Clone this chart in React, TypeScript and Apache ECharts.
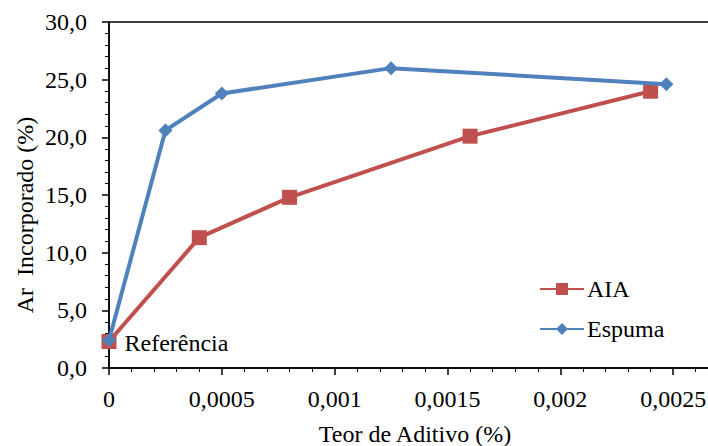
import React, { useEffect, useRef } from "react";
import * as echarts from "echarts";

const aiaX = [0, 0.0004, 0.0008, 0.0016, 0.0024];
const aiaY = [2.3, 11.3, 14.8, 20.1, 24.0];
const espX = [0, 0.00025, 0.0005, 0.00125, 0.00247];
const espY = [2.4, 20.6, 23.8, 26.0, 24.6];
const seriesNames = ["AIA", "Espuma"];
const refLabel = "Referência";
const xTitle = "Teor de Aditivo (%)";
const yTitle = "Ar  Incorporado (%)";

const FONT = "Liberation Serif";
const FS = 24;

export default function App() {
  const ref = useRef<HTMLDivElement>(null);
  useEffect(() => {
    if (!ref.current) return;
    const chart = echarts.init(ref.current, undefined, { renderer: "svg" });
    const fmtX = (v: number) =>
      parseFloat(v.toFixed(5)).toString().replace(".", ",");
    const fmtY = (v: number) => v.toFixed(1).replace(".", ",");
    chart.setOption({
      animation: false,
      backgroundColor: "#ffffff",
      textStyle: { fontFamily: FONT, fontSize: FS, color: "#000" },
      grid: {
        left: 109,
        top: 22,
        bottom: 78,
        right: 0,
        show: true,
        borderColor: "#000",
        borderWidth: 1.5,
        containLabel: false,
        outerBoundsMode: "none",
      },
      legend: {
        orient: "vertical",
        left: 539,
        top: 277,
        padding: 0,
        itemWidth: 44,
        itemHeight: 15,
        itemGap: 16,
        textStyle: { fontFamily: FONT, fontSize: FS, color: "#000", padding: [0, 0, 0, -2] },
        data: seriesNames,
      },
      xAxis: {
        type: "value",
        min: 0,
        max: 0.003,
        interval: 0.0005,
        axisLine: { show: true, onZero: false, lineStyle: { color: "#000", width: 1.5 } },
        axisTick: { show: true, length: 7, lineStyle: { color: "#000", width: 1.5 } },
        minorTick: { show: true, splitNumber: 5, length: 4, lineStyle: { color: "#000", width: 1 } },
        splitLine: { show: false },
        axisLabel: {
          fontFamily: FONT,
          fontSize: FS,
          color: "#000",
          margin: 19,
          showMaxLabel: false,
          formatter: fmtX,
        },
      },
      yAxis: {
        type: "value",
        min: 0,
        max: 30,
        interval: 5,
        axisLine: { show: true, lineStyle: { color: "#000", width: 1.5 } },
        axisTick: { show: true, length: 7, lineStyle: { color: "#000", width: 1.5 } },
        minorTick: { show: true, splitNumber: 5, length: 4, lineStyle: { color: "#000", width: 1 } },
        splitLine: { show: false },
        axisLabel: {
          fontFamily: FONT,
          fontSize: FS,
          color: "#000",
          margin: 22,
          formatter: fmtY,
        },
      },
      graphic: [
        {
          type: "text",
          x: 415,
          y: 434,
          style: {
            text: xTitle,
            fontFamily: FONT,
            fontSize: FS,
            fill: "#000",
            align: "center",
            verticalAlign: "middle",
          },
        },
        {
          type: "text",
          x: 25,
          y: 215,
          rotation: Math.PI / 2,
          style: {
            text: yTitle,
            fontFamily: FONT,
            fontSize: FS,
            fill: "#000",
            align: "center",
            verticalAlign: "middle",
          },
        },
      ],
      series: [
        {
          name: seriesNames[0],
          type: "line",
          data: aiaX.map((x, i) =>
            i === 0
              ? {
                  value: [x, aiaY[i]],
                  label: {
                    show: true,
                    position: "right",
                    distance: 8,
                    formatter: refLabel,
                    fontFamily: FONT,
                    fontSize: FS,
                    color: "#000",
                    offset: [0, 2],
                  },
                }
              : [x, aiaY[i]]
          ),
          symbol: "rect",
          symbolSize: 15,
          lineStyle: { color: "#C0504D", width: 4 },
          itemStyle: { color: "#C0504D" },
          z: 2,
        },
        {
          name: seriesNames[1],
          type: "line",
          data: espX.map((x, i) => [x, espY[i]]),
          symbol: "diamond",
          symbolSize: 14,
          lineStyle: { color: "#4F81BD", width: 4 },
          itemStyle: { color: "#4F81BD" },
          z: 3,
        },
      ],
    });
    return () => chart.dispose();
  }, []);
  return (
    <div
      style={{
        position: "absolute",
        left: 0,
        top: 0,
        width: 708,
        height: 446,
        overflow: "hidden",
      }}
    >
      <div ref={ref} style={{ width: 786, height: 446 }} />
    </div>
  );
}
